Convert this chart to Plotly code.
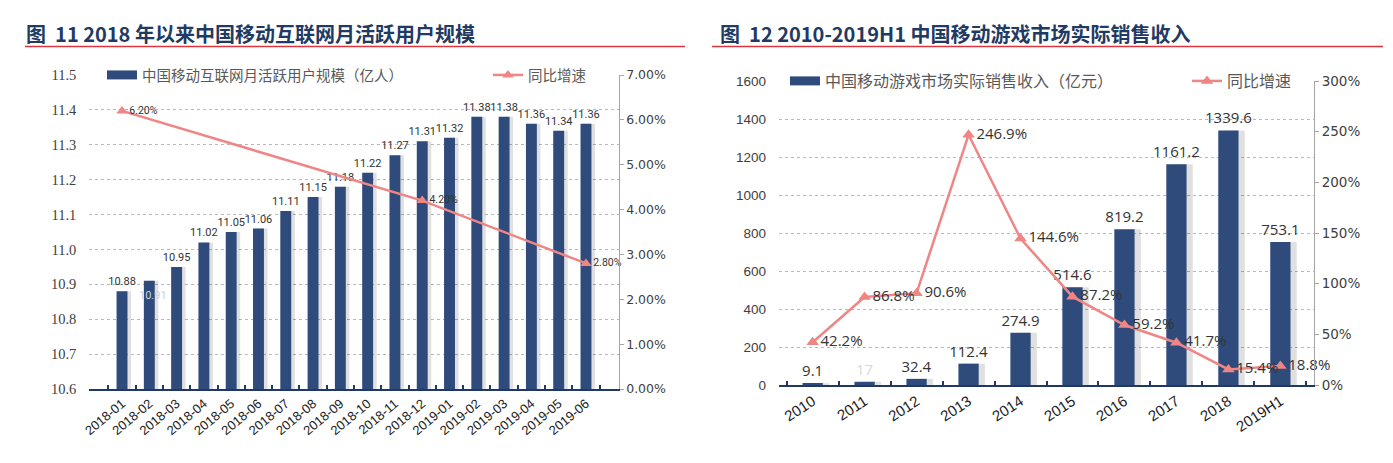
import plotly.graph_objects as go

# ---------------- data ----------------
months = ["2018-01", "2018-02", "2018-03", "2018-04", "2018-05", "2018-06",
          "2018-07", "2018-08", "2018-09", "2018-10", "2018-11", "2018-12",
          "2019-01", "2019-02", "2019-03", "2019-04", "2019-05", "2019-06"]
mau = [10.88, 10.91, 10.95, 11.02, 11.05, 11.06, 11.11, 11.15, 11.18, 11.22,
       11.27, 11.31, 11.32, 11.38, 11.38, 11.36, 11.34, 11.36]
mau_growth_months = ["2018-01", "2018-12", "2019-06"]
mau_growth = [6.20, 4.20, 2.80]

years = ["2010", "2011", "2012", "2013", "2014", "2015", "2016", "2017", "2018", "2019H1"]
revenue = [9.1, 17.0, 32.4, 112.4, 274.9, 514.6, 819.2, 1161.2, 1339.6, 753.1]
rev_growth = [42.2, 86.8, 90.6, 246.9, 144.6, 87.2, 59.2, 41.7, 15.4, 18.8]

title_left = "图  11 2018 年以来中国移动互联网月活跃用户规模"
title_right = "图  12 2010-2019H1 中国移动游戏市场实际销售收入"
legend_mau = "中国移动互联网月活跃用户规模（亿人）"
legend_rev = "中国移动游戏市场实际销售收入（亿元）"
legend_growth = "同比增速"

# ---------------- style ----------------
OFF = 8  # page body margin
W, H = 1393 - OFF, 463 - OFF
NAVY = "#2F4B7C"
AXNAVY = "#1F3864"
PINK = "#EF8585"
TITLE_C = "#1F3A63"
RED = "#D9363E"
GRID = "#B8B8B8"
TXT = "#404040"
SMALL_FONT = "Liberation Sans Narrow, Roboto, sans-serif"
LAB_FONT = "Open Sans, sans-serif"


def px(xp):
    return (xp - OFF) / W


def py(yp):
    return 1 - (yp - OFF) / H


fig = go.Figure()

# ---- left chart ----
fig.add_trace(go.Bar(x=months, y=mau, xaxis="x", yaxis="y", width=0.4, offset=-0.2 + 0.13,
                     marker=dict(color="rgba(0,0,0,0.12)", line_width=0),
                     showlegend=False, hoverinfo="skip"))
left_text = [f"{v:.2f}" for v in mau]
left_text[1] = ""
fig.add_trace(go.Bar(x=months, y=mau, xaxis="x", yaxis="y", width=0.4, offset=-0.2,
                     marker=dict(color=NAVY, line_width=0), name=legend_mau,
                     text=left_text, textposition="outside", cliponaxis=False, constraintext="none",
                     textfont=dict(family=SMALL_FONT, size=11, color="#333333"),
                     showlegend=False))
# legend key drawn as a wide bar swatch
fig.add_trace(go.Scatter(x=[None], y=[None], xaxis="x", yaxis="y", mode="lines", name=legend_mau,
                         line=dict(color=NAVY, width=9), legend="legend", hoverinfo="skip"))
fig.add_trace(go.Scatter(x=mau_growth_months, y=mau_growth, xaxis="x", yaxis="y2",
                         mode="lines+markers+text", name=legend_growth,
                         line=dict(color=PINK, width=2.5),
                         marker=dict(symbol="triangle-up", size=10, color=PINK),
                         text=[f"{v:.2f}%" for v in mau_growth], textposition="middle right",
                         textfont=dict(family=SMALL_FONT, size=10.5, color="#333333"),
                         cliponaxis=False, legend="legend2"))

# ---- right chart ----
fig.add_trace(go.Bar(x=years, y=revenue, xaxis="x2", yaxis="y3", width=0.39, offset=-0.195 + 0.12,
                     marker=dict(color="rgba(0,0,0,0.12)", line_width=0),
                     showlegend=False, hoverinfo="skip"))
rev_colors = ["#333333"] * len(revenue)
rev_colors[1] = "#D8D8D8"
fig.add_trace(go.Bar(x=years, y=revenue, xaxis="x2", yaxis="y3", width=0.39, offset=-0.195,
                     marker=dict(color=NAVY, line_width=0), name=legend_rev,
                     text=[f"{v:g}" for v in revenue], textposition="outside", cliponaxis=False,
                     constraintext="none",
                     textfont=dict(family=LAB_FONT, size=15, color=rev_colors),
                     showlegend=False))
fig.add_trace(go.Scatter(x=[None], y=[None], xaxis="x2", yaxis="y3", mode="lines", name=legend_rev,
                         line=dict(color=NAVY, width=9), legend="legend3", hoverinfo="skip"))
fig.add_trace(go.Scatter(x=years, y=rev_growth, xaxis="x2", yaxis="y4",
                         mode="lines+markers+text", name=legend_growth,
                         line=dict(color=PINK, width=2.5),
                         marker=dict(symbol="triangle-up", size=11, color=PINK),
                         text=[f"{v:.1f}%" for v in rev_growth], textposition="middle right",
                         textfont=dict(family=LAB_FONT, size=15, color="#333333"),
                         cliponaxis=False, legend="legend4"))

# light in-bar label of 2018-02
fig.add_annotation(x=months[1], y=mau[1], xref="x", yref="y", text=f"{mau[1]:.2f}",
                   showarrow=False, yshift=-15, xshift=4,
                   font=dict(family=SMALL_FONT, size=11, color="#C9D1DE"))

# titles and red rules
fig.add_annotation(x=px(24), y=py(33), xref="paper", yref="paper", xanchor="left", yanchor="middle",
                   text=f"<b>{title_left}</b>", showarrow=False,
                   font=dict(family="Noto Sans CJK SC", size=20, color=TITLE_C))
fig.add_annotation(x=px(718), y=py(33), xref="paper", yref="paper", xanchor="left", yanchor="middle",
                   text=f"<b>{title_right}</b>", showarrow=False,
                   font=dict(family="Noto Sans CJK SC", size=20, color=TITLE_C))
fig.add_shape(type="line", xref="paper", yref="paper", x0=px(25), x1=px(685), y0=py(46.5), y1=py(46.5),
              line=dict(color=RED, width=1.5))
fig.add_shape(type="line", xref="paper", yref="paper", x0=px(712), x1=px(1383), y0=py(46.5), y1=py(46.5),
              line=dict(color=RED, width=1.5))

fig.update_layout(
    width=W, height=H, margin=dict(l=0, r=0, t=0, b=0, autoexpand=False),
    paper_bgcolor="white", plot_bgcolor="white",
    barmode="overlay", bargap=0.6,
    xaxis=dict(domain=[px(89.3), px(618.7)], anchor="y", type="category", automargin=False,
               categoryorder="array", categoryarray=months,
               tickangle=-40, tickfont=dict(family="Liberation Sans, Arial, sans-serif", size=13, color="#222222"),
               showline=True, linecolor=AXNAVY, linewidth=2,
               ticks="inside", tickson="boundaries", ticklen=4, tickcolor=AXNAVY, tickwidth=1.5,
               showgrid=False),
    yaxis=dict(domain=[py(389), py(75)], anchor="x", range=[10.6, 11.5], dtick=0.1, automargin=False,
               tickformat=".1f", showgrid=True, gridcolor=GRID, griddash="dot", gridwidth=1,
               tickfont=dict(family="Liberation Serif, serif", size=14.5, color=TXT),
               showline=False, ticks="", zeroline=False, ticklabelstandoff=12),
    yaxis2=dict(overlaying="y", side="right", anchor="x", range=[0, 7], dtick=1, automargin=False,
                tickformat=".2f", ticksuffix="%", showgrid=False, zeroline=False,
                tickfont=dict(family="DejaVu Sans, sans-serif", size=12.5, color=TXT),
                showline=True, linecolor="#A6A6A6", linewidth=1,
                ticks="outside", ticklen=4, tickcolor="#A6A6A6"),
    xaxis2=dict(domain=[px(779), px(1314)], anchor="y3", type="category", automargin=False,
                categoryorder="array", categoryarray=years,
                tickangle=-33, tickfont=dict(family="Liberation Sans, Arial, sans-serif", size=15, color="#222222"),
                showline=True, linecolor=AXNAVY, linewidth=2,
                ticks="inside", tickson="boundaries", ticklen=4, tickcolor=AXNAVY, tickwidth=1.5,
                showgrid=False),
    yaxis3=dict(domain=[py(385), py(81)], anchor="x2", range=[0, 1600], dtick=200, automargin=False,
                showgrid=True, gridcolor=GRID, griddash="dot", gridwidth=1,
                tickfont=dict(family="Liberation Sans, Arial, sans-serif", size=13.5, color=TXT),
                showline=False, ticks="", zeroline=False, ticklabelstandoff=12),
    yaxis4=dict(overlaying="y3", side="right", anchor="x2", range=[0, 300], dtick=50, automargin=False,
                ticksuffix="%", showgrid=False, zeroline=False,
                tickfont=dict(family="DejaVu Sans, sans-serif", size=13.5, color=TXT),
                showline=True, linecolor="#A6A6A6", linewidth=1,
                ticks="outside", ticklen=4, tickcolor="#A6A6A6"),
    legend=dict(x=px(102), y=py(75), xanchor="left", yanchor="middle", bgcolor="white",
                font=dict(family="Noto Sans CJK SC", size=14.5, color="#595959")),
    legend2=dict(x=px(488), y=py(75), xanchor="left", yanchor="middle", bgcolor="white",
                 font=dict(family="Noto Sans CJK SC", size=14.5, color="#595959")),
    legend3=dict(x=px(785), y=py(81), xanchor="left", yanchor="middle", bgcolor="white",
                 font=dict(family="Noto Sans CJK SC", size=16, color="#595959")),
    legend4=dict(x=px(1187), y=py(81), xanchor="left", yanchor="middle", bgcolor="white",
                 font=dict(family="Noto Sans CJK SC", size=16, color="#595959")),
)

fig.write_html("out.html")
